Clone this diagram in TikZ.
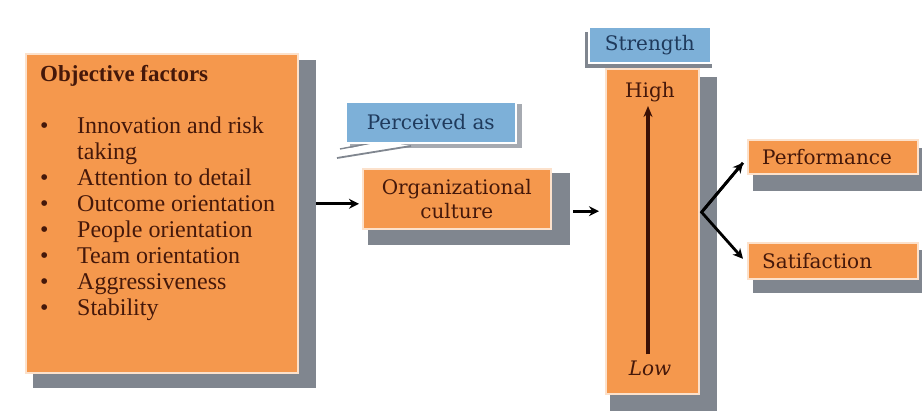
\documentclass[tikz,border=0pt]{standalone}
\usepackage{fontspec}
\setmainfont{Liberation Serif}
\newfontfamily\boxfont{DejaVu Serif}
\usetikzlibrary{arrows.meta,calc}
\definecolor{boxorange}{HTML}{F5984D}
\definecolor{boxedge}{HTML}{FCE1CB}
\definecolor{boxblue}{HTML}{7DB0D8}
\definecolor{shadowc}{HTML}{80868F}
\definecolor{browntext}{HTML}{45180A}
\definecolor{navytext}{HTML}{1F3A5C}
\definecolor{arrowbrown}{HTML}{3A1005}
\tikzset{
  shad/.style={fill=shadowc, draw=none, inner sep=0pt, anchor=north west},
  obox/.style={fill=boxorange, draw=boxedge, line width=1.6pt, inner sep=0pt, anchor=north west},
  bbox/.style={fill=boxblue, draw=white, line width=1.6pt, inner sep=0pt, anchor=north west},
  otext/.style={font=\boxfont\fontsize{20}{24}\selectfont, text=browntext, align=center, inner sep=1pt},
  btext/.style={font=\boxfont\fontsize{20}{24}\selectfont, text=navytext, inner sep=1pt},
  arr/.style={-{Stealth[length=10pt,width=10pt]}, line width=2.8pt, black},
  uparr/.style={-{Stealth[length=11pt,width=9pt]}, line width=3.2pt, arrowbrown},
}
\begin{document}
\begin{tikzpicture}[x=1pt,y=-1pt]
\useasboundingbox[fill=white] (0,0) rectangle (922,411);

% Objective factors panel
\node[shad, minimum width=283, minimum height=328] (objsh) at (33,60) {};
\node[obox, minimum width=272, minimum height=319] (obj) at (25,53) {};
\node[anchor=north west, inner sep=0pt, text=browntext, font=\fontsize{24}{26}\selectfont] (objtext) at (40,63) {%
  \begin{tabular}{@{}p{37pt}@{}l@{}}
  \multicolumn{2}{@{}l@{}}{\bfseries\fontsize{23}{26}\selectfont Objective factors}\\[26pt]
  \textbullet & Innovation and risk\\
              & taking\\
  \textbullet & Attention to detail\\
  \textbullet & Outcome orientation\\
  \textbullet & People orientation\\
  \textbullet & Team orientation\\
  \textbullet & Aggressiveness\\
  \textbullet & Stability
  \end{tabular}};

% "Perceived as" callout
\node[shad, fill=shadowc!70, minimum width=172, minimum height=44] (persh) at (350,104) {};
\fill[white] (382,141) -- (338,151) -- (338,158) -- (411,146) -- cycle;
\draw[shadowc, line width=1.4pt] (382,141) -- (340,149);
\draw[shadowc, line width=1.8pt] (411,146) -- (337,158);
\node[bbox, minimum width=170, minimum height=41] (per) at (345,101) {};
\node[btext] (pertext) at (per.center) {Perceived as};

% Organizational culture
\node[shad, minimum width=202, minimum height=72] (orgsh) at (368,173) {};
\node[obox, minimum width=188, minimum height=60] (org) at (362,168) {};
\node[otext] (orgtext) at (org.center) {Organizational\\culture};

% Strength scale
\node[shad, minimum width=107, minimum height=334] (strsh) at (610,77) {};
\node[obox, minimum width=93, minimum height=325] (str) at (605,68) {};
\node[shad, minimum width=127, minimum height=36] (lblsh) at (585,32) {};
\node[bbox, minimum width=122, minimum height=36] (lbl) at (588,26) {};
\node[btext] (lbltext) at (lbl.center) {Strength};
\node[otext] (high) at (650,92) {High};
\node[otext, font=\boxfont\itshape\fontsize{20}{24}\selectfont] (low) at (650,368) {Low};
\draw[uparr] ($(low.north)+(-2,-5)$) -- ($(high.south)+(-2,3)$);

% Outcomes
\node[shad, minimum width=172, minimum height=43] (perfsh) at (753,148) {};
\node[obox, minimum width=170, minimum height=34] (perf) at (747,139) {};
\node[otext, anchor=west] (perftext) at ($(perf.west)+(14,0)$) {Performance};
\node[shad, minimum width=172, minimum height=43] (satsh) at (753,250) {};
\node[obox, minimum width=170, minimum height=36] (sat) at (747,242) {};
\node[otext, anchor=west] (sattext) at ($(sat.west)+(14,0)$) {Satifaction};

% Connectors
\coordinate (orgin) at ($(org.west)+(-3,5)$);
\draw[arr] (objsh.east |- orgin) -- (orgin);
\coordinate (strin) at ($(str.west |- orgsh.center)+(-6,2)$);
\draw[arr] ($(orgsh.east |- strin)+(3,0)$) -- (strin);
\coordinate (fork) at ($(str.east |- strin)+(2,1)$);
\draw[arr, line join=miter] ($(perf.west)+(-4,6)$) -- (fork) -- ($(sat.west)+(-4,-2)$);
\draw[arr] (fork) -- ($(perf.west)+(-4,6)$);
\end{tikzpicture}
\end{document}
